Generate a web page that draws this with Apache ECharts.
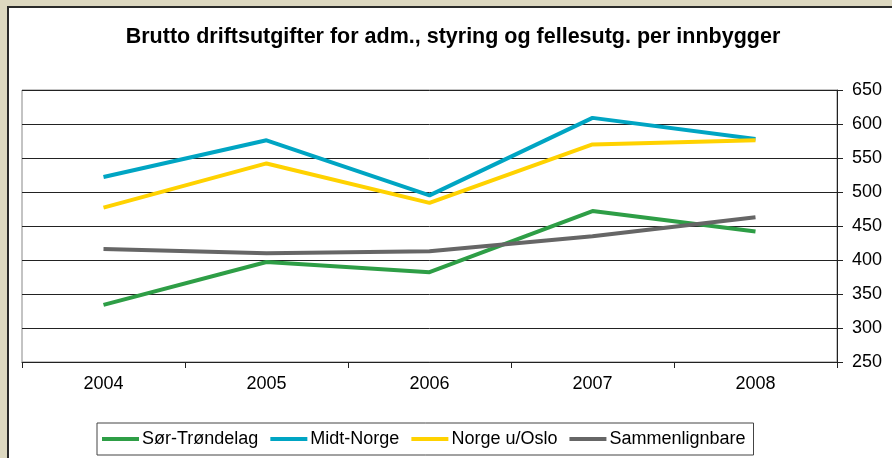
<!DOCTYPE html>
<html>
<head>
<meta charset="utf-8">
<script src="https://cdn.jsdelivr.net/npm/echarts@6/dist/echarts.min.js"></script>
<style>
  html, body { margin: 0; padding: 0; background: #DDD8C0; }
  #frame { position: absolute; left: 7px; top: 6px; width: 900px; height: 460px;
           background: #fff; border-left: 2px solid #2a2a2a; border-top: 2px solid #2a2a2a; }
  #main { position: absolute; left: 0; top: 0; width: 892px; height: 458px; }
</style>
</head>
<body>
<div id="frame"></div>
<div id="main"></div>
<script>
  let years = ['2004', '2005', '2006', '2007', '2008']
  let sorTrondelag = [334, 397, 382, 472, 442]
  let midtNorge = [522, 576, 495, 609, 578]
  let norgeUtenOslo = [477, 542, 484, 570, 576]
  let sammenlignbare = [416, 410, 413, 435, 463]
  let colors = ['#2E9E46', '#00A5C3', '#FFD200', '#666666']

  let chart = echarts.init(document.getElementById('main'))
  let font = 'Liberation Sans, Arial, sans-serif'
  chart.setOption({
    color: colors,
    animation: false,
    title: {
      text: 'Brutto driftsutgifter for adm., styring og fellesutg. per innbygger',
      left: 448,
      textAlign: 'center',
      top: 21,
      textStyle: { fontFamily: font, fontSize: 21.5, fontWeight: 'bold', color: '#000' }
    },
    legend: {
      left: 97,
      top: 423,
      icon: 'rect',
      itemWidth: 37,
      itemHeight: 4,
      itemGap: 12,
      padding: [7, 8, 7, 5],
      backgroundColor: '#fff',
      borderColor: '#444',
      borderWidth: 1,
      textStyle: { fontFamily: font, fontSize: 18, color: '#000', padding: [0, 0, 0, -2] },
      data: ['Sør-Trøndelag', 'Midt-Norge', 'Norge u/Oslo', 'Sammenlignbare']
    },
    grid: {
      left: 22,
      right: 55,
      top: 90,
      bottom: 96,
      show: true,
      borderColor: '#888',
      borderWidth: 1,
      backgroundColor: '#fff'
    },
    xAxis: {
      type: 'category',
      boundaryGap: true,
      data: years,
      axisLine: { lineStyle: { color: '#222', width: 1 } },
      axisTick: { show: true, length: 6, lineStyle: { color: '#222' } },
      axisLabel: { fontFamily: font, fontSize: 18, color: '#000', margin: 13 }
    },
    yAxis: {
      type: 'value',
      position: 'right',
      min: 250,
      max: 650,
      interval: 50,
      axisLine: { show: true, lineStyle: { color: '#222', width: 1 } },
      axisTick: { show: true, length: 6, lineStyle: { color: '#222' } },
      axisLabel: { fontFamily: font, fontSize: 18, color: '#000', margin: 15 },
      splitLine: { lineStyle: { color: '#222', width: 1 } }
    },
    series: [
      { name: 'Sør-Trøndelag', type: 'line', symbol: 'none', lineStyle: { width: 4 }, data: sorTrondelag },
      { name: 'Midt-Norge', type: 'line', symbol: 'none', lineStyle: { width: 4 }, data: midtNorge },
      { name: 'Norge u/Oslo', type: 'line', symbol: 'none', lineStyle: { width: 4 }, data: norgeUtenOslo },
      { name: 'Sammenlignbare', type: 'line', symbol: 'none', lineStyle: { width: 4 }, data: sammenlignbare }
    ]
  })
</script>
</body>
</html>
